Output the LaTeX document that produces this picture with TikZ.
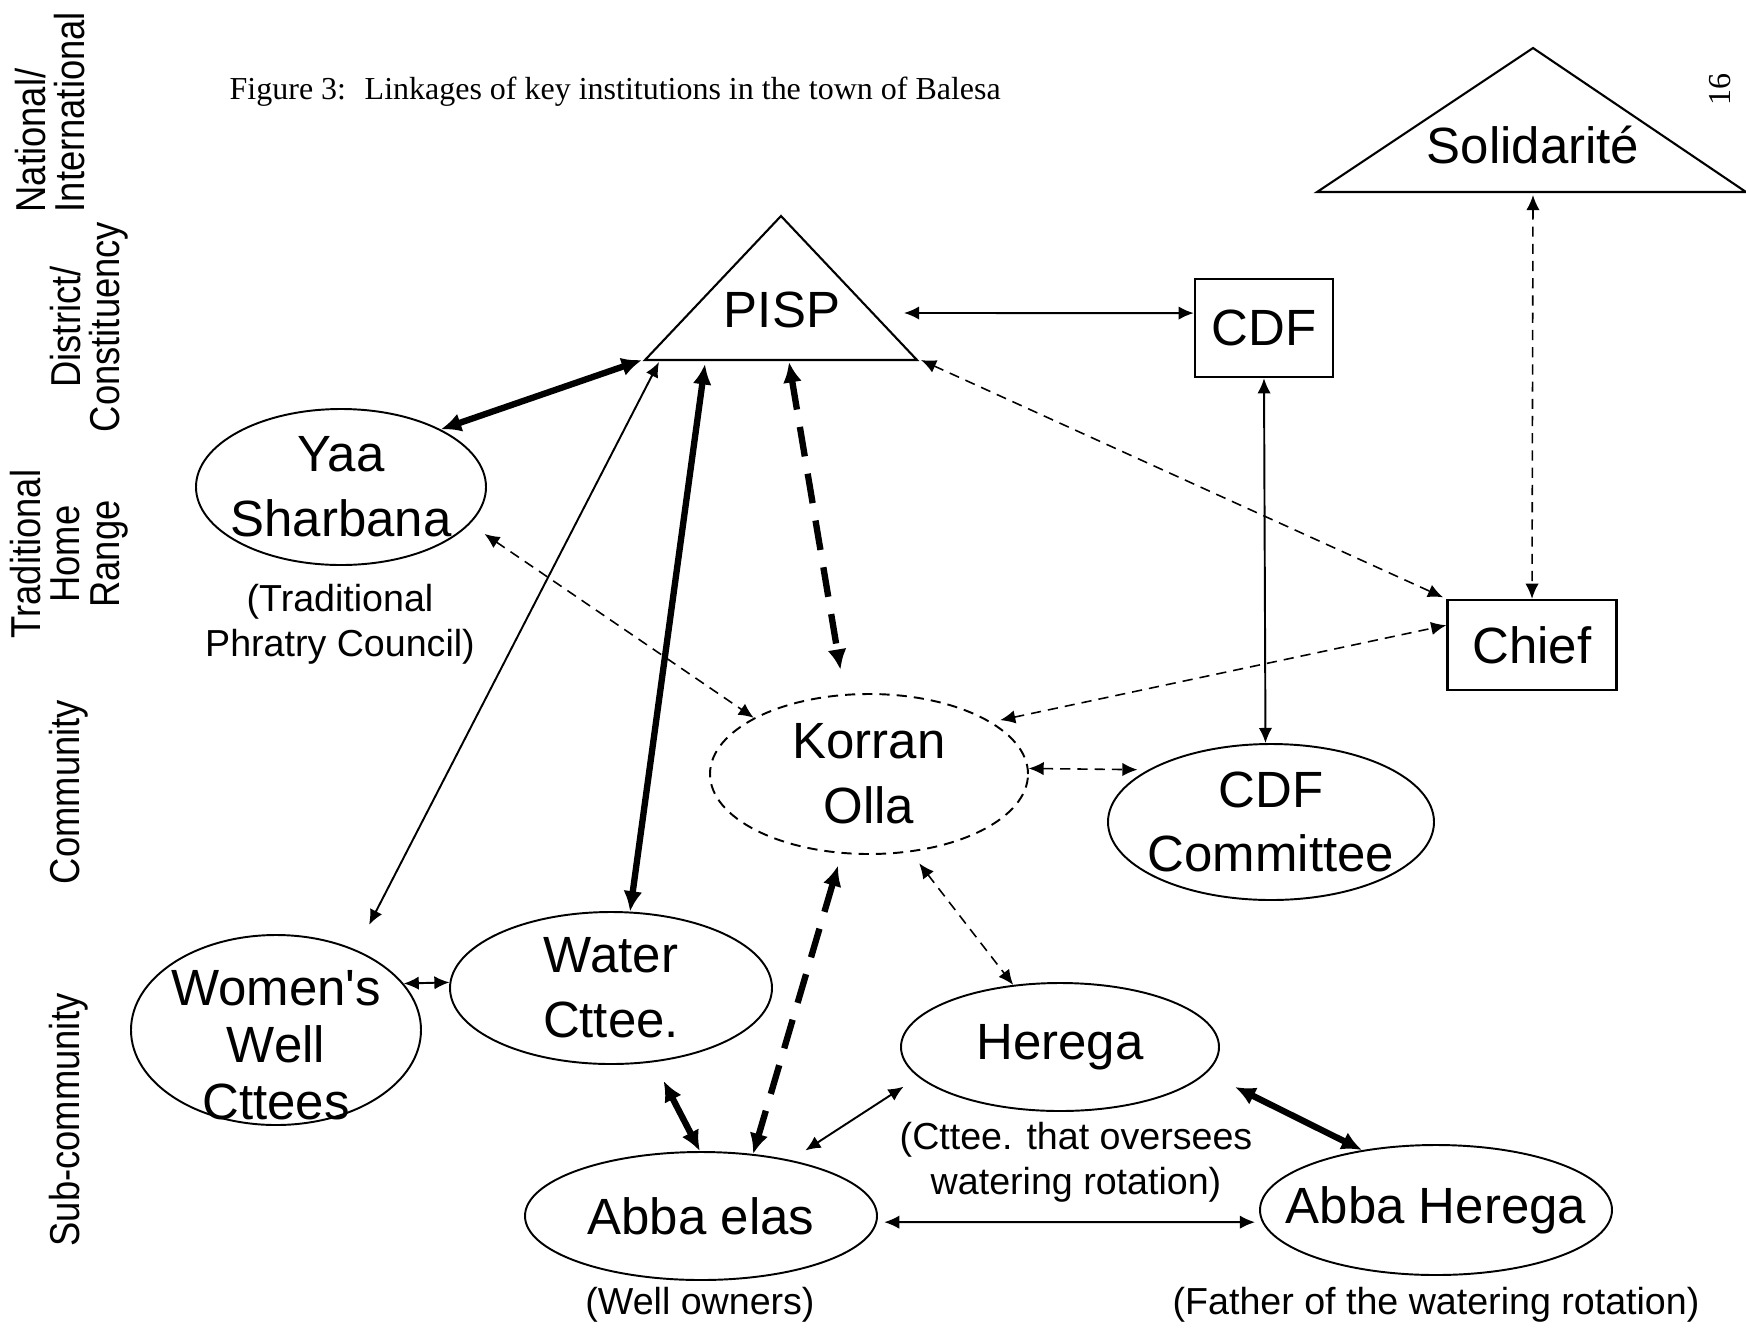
\documentclass[tikz,border=0pt]{standalone}
\usepackage{fontspec}
\setmainfont{Liberation Sans}
\newfontfamily\capfont{Liberation Serif}
\newfontfamily\sidefont[FakeStretch=0.87]{Liberation Sans}
\usetikzlibrary{positioning,shapes.geometric,arrows.meta}

\tikzset{
  inst/.style={ellipse, draw, line width=0.55pt, inner sep=-1cm, align=center,
    font=\fontsize{14.5}{18.4}\selectfont},
  instbox/.style={rectangle, draw, line width=0.7pt, inner sep=0pt,
    font=\fontsize{14.5}{18.4}\selectfont},
  note/.style={align=center, inner sep=0pt, font=\fontsize{10.7}{12.8}\selectfont},
  level/.style={rotate=90, align=center, inner sep=0pt,
    font=\sidefont\fontsize{11.9}{11.2}\selectfont},
  link/.style={{Latex[length=4.3pt,width=3.8pt]}-{Latex[length=4.3pt,width=3.8pt]},
    line width=0.55pt},
  dlink/.style={link, line width=0.45pt, dash pattern=on 2.9pt off 2pt},
  tie/.style={{Latex[length=5.8pt,width=5.4pt]}-{Latex[length=5.8pt,width=5.4pt]},
    line width=1.8pt},
  dtie/.style={tie, dash pattern=on 8.5pt off 5pt},
}

\begin{document}
\begin{tikzpicture}
    \useasboundingbox (0,0) rectangle (17.46,-13.30);

    % levels down the left side
    \node[level, align=left, anchor=west] (natl) at (0.50,-2.13) {National/\\International};
    \node[level] (dist) at (0.89,-3.27) {District/\\Constituency};
    \node[level] (trad) at (0.69,-5.54) {Traditional\\Home\\Range};
    \node[level] (comm) at (0.69,-7.92) {Community};
    \node[level] (subc) at (0.69,-11.20) {Sub-community};

    \node[anchor=west, inner sep=0pt, font=\capfont\fontsize{9.1}{11}\selectfont] (title) at (2.29,-0.92)
        {Figure 3:~ Linkages of key institutions in the town of Balesa};
    \node[rotate=90, inner sep=0pt, font=\capfont\fontsize{9.1}{11}\selectfont] (page) at (17.20,-0.89) {16};

    % institutions
    \node[font=\fontsize{14.5}{18.4}\selectfont] (pisp) at (7.82,-3.10) {PISP};
    \draw[line width=0.6pt] ([shift={(-1.37,-0.50)}]pisp.center) -- ([shift={(1.35,-0.50)}]pisp.center)
        -- ([shift={(-0.01,0.94)}]pisp.center) -- cycle;
    \node[font=\fontsize{14.5}{18.4}\selectfont] (solid) at (15.33,-1.45) {Solidarité};
    \draw[line width=0.6pt] ([shift={(-2.16,-0.47)}]solid.center) -- ([shift={(2.13,-0.47)}]solid.center)
        -- ([shift={(0,0.97)}]solid.center) -- cycle;
    \node[instbox, minimum width=1.38cm, minimum height=0.98cm] (cdf) at (12.64,-3.28) {CDF};
    \node[instbox, minimum width=1.69cm, minimum height=0.90cm] (chief) at (15.32,-6.45) {Chief};

    \node[inst, minimum width=2.90cm, minimum height=1.56cm] (yaa) at (3.41,-4.87) {Yaa\\Sharbana};
    \node[inst, minimum width=2.90cm, minimum height=1.90cm, font=\fontsize{14.5}{16.2}\selectfont] (women) at (2.76,-10.30)
        {\raisebox{-0.34cm}[0pt][0pt]{\begin{tabular}{@{}c@{}}Women\textquotesingle s\\Well\\Cttees\end{tabular}}};
    \node[inst, minimum width=3.22cm, minimum height=1.52cm] (water) at (6.11,-9.88) {Water\\Cttee.};
    \node[inst, dash pattern=on 2.9pt off 2pt, minimum width=3.18cm, minimum height=1.60cm] (korran) at (8.69,-7.74) {Korran\\Olla};
    \node[inst, minimum width=3.26cm, minimum height=1.56cm] (cdfc) at (12.71,-8.22) {CDF\\Committee};
    \node[inst, minimum width=3.18cm, minimum height=1.28cm] (herega) at (10.60,-10.47) {Herega};
    \node[inst, minimum width=3.52cm, minimum height=1.28cm] (abbael) at (7.01,-12.16) {Abba elas};
    \node[inst, minimum width=3.52cm, minimum height=1.30cm] (abbaher) at (14.36,-12.10) {Abba Herega};

    \node[note] (yaacap) at (3.40,-6.24) {(Traditional\\Phratry Council)};
    \node[note] (heregacap) at (10.76,-11.62) {(Cttee. that oversees\\watering rotation)};
    \node[note] (abbaelcap) at (7.00,-13.05) {(Well owners)};
    \node[note] (abbahercap) at (14.36,-13.05) {(Father of the watering rotation)};

    % linkages
    \draw[link] ([shift={(1.22,-0.03)}]pisp.center) -- (cdf.168);
    \draw[tie] ([shift={(-1.40,-0.50)}]pisp.center) -- (yaa.30);
    \draw[link, shorten >=8pt] ([shift={(-1.23,-0.52)}]pisp.center) -- (women.45);
    \draw[tie] ([shift={(-0.77,-0.54)}]pisp.center) -- (water.76);
    \draw[dtie, shorten >=7pt] ([shift={(0.07,-0.52)}]pisp.center) -- (korran.107);
    \draw[dlink, shorten >=1pt] ([shift={(1.39,-0.50)}]pisp.center) -- (chief.north west);
    \draw[dlink] ([shift={(0,-0.50)}]solid.center) -- (chief.north);
    \draw[link] (cdf.south) -- (cdfc.94);
    \draw[dlink, shorten <=5pt] (yaa.-16) -- (korran.154);
    \draw[dlink, shorten <=2.5pt] (korran.23) -- (chief.167);
    \draw[dlink, shorten >=3pt] (korran.2) -- (cdfc.157);
    \draw[dlink, shorten <=4pt] (korran.-62) -- (herega.127);
    \draw[dtie, shorten <=3.5pt] (korran.-109) -- (abbael.50);
    \draw[link] (women.20) -- (water.178);
    \draw[tie, shorten <=6pt] (water.-60) -- (abbael.91);
    \draw[link, shorten <=5pt, shorten >=5pt] (herega.192) -- (abbael.32);
    \draw[tie, shorten <=9pt] (herega.-10) -- (abbaher.141);
    \draw[link, shorten <=2pt, shorten >=2pt] (abbael.-2.5) -- (abbaher.184);
\end{tikzpicture}
\end{document}
